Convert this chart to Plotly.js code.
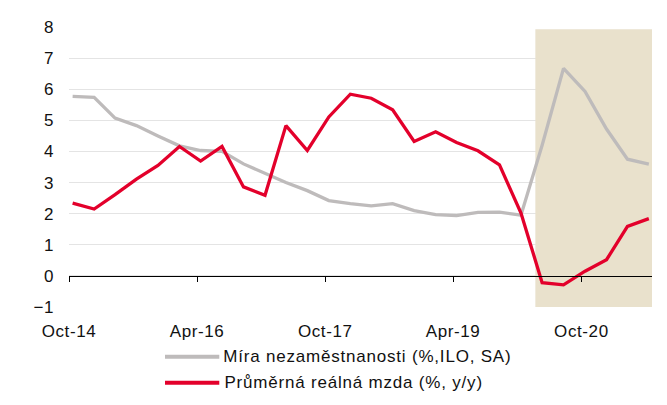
<!DOCTYPE html>
<html>
<head>
<meta charset="utf-8">
<script src="https://cdn.plot.ly/plotly-3.0.1.min.js"></script>
<style>
  html, body { margin: 0; padding: 0; background: #fff; }
  #chart { width: 667px; height: 405px; }
  #chart .xtick text, #chart .ytick text { letter-spacing: 0.6px; }
  #chart .annotation-text { letter-spacing: 0.8px; }
</style>
</head>
<body>
<div id="chart"></div>
<script>
// Quarterly observations (first month of each quarter)
const quarters = [
  '2014-10','2015-01','2015-04','2015-07','2015-10','2016-01','2016-04','2016-07',
  '2016-10','2017-01','2017-04','2017-07','2017-10','2018-01','2018-04','2018-07',
  '2018-10','2019-01','2019-04','2019-07','2019-10','2020-01','2020-04','2020-07',
  '2020-10','2021-01','2021-04','2021-07'
];
// Míra nezaměstnanosti (%, ILO, SA)
const unemployment = [
  5.77, 5.74, 5.07, 4.83, 4.50, 4.18, 4.03, 4.00,
  3.60, 3.30, 3.00, 2.74, 2.42, 2.32, 2.25, 2.32,
  2.10, 1.97, 1.94, 2.04, 2.05, 1.95, 4.20, 6.67,
  5.93, 4.72, 3.75, 3.59
];
// Průměrná reálná mzda (%, y/y)
const realWage = [
  2.34, 2.15, 2.61, 3.11, 3.55, 4.16, 3.69, 4.16,
  2.86, 2.59, 4.83, 4.03, 5.11, 5.84, 5.71, 5.34,
  4.32, 4.63, 4.29, 4.02, 3.57, 2.02, -0.22, -0.29,
  0.15, 0.52, 1.59, 1.84
];
const seriesNames = ['Míra nezaměstnanosti (%,ILO, SA)', 'Průměrná reálná mzda (%, y/y)'];
const seriesColors = ['#bebbbb', '#e3002b'];
const tickDates = ['2014-10-01','2016-04-01','2017-10-01','2019-04-01','2020-10-01'];
const tickLabels = ['Oct-14','Apr-16','Oct-17','Apr-19','Oct-20'];
const xRange = ['2014-10-01', '2021-07-30'];
const covidStart = '2020-03-18';

const FONT = 'Liberation Sans, Arial, sans-serif';

const common = { x: quarters, xperiod: 'M1', xperiodalignment: 'middle', mode: 'lines',
                 hoverinfo: 'skip', showlegend: false };

const traces = [
  Object.assign({}, common, { y: unemployment, name: seriesNames[0],
    line: { color: seriesColors[0], width: 3.3 } }),
  Object.assign({}, common, { y: realWage, name: seriesNames[1],
    line: { color: seriesColors[1], width: 3.3 } }),
  // carrier for the zero-level axis with tick marks
  Object.assign({}, common, { y: quarters.map(() => null), xaxis: 'x2' })
];

// plot area geometry in px (for legend placement in paper coords)
const M = { l: 69, r: 15, t: 27, b: 98 };
const PW = 667 - M.l - M.r, PH = 405 - M.t - M.b;
const px = v => (v - M.l) / PW;
const py = v => (405 - M.b - v) / PH;

const legendRows = [356.7, 382.7];
const shapes = [
  { type: 'rect', xref: 'x', yref: 'y', x0: covidStart, x1: xRange[1], y0: -1, y1: 7.93,
    fillcolor: '#e9e1cc', line: { width: 0 }, layer: 'between' }
];
const annotations = [];
seriesNames.forEach((name, i) => {
  shapes.push({ type: 'line', xref: 'paper', yref: 'paper',
    x0: px(165), x1: px(219.3), y0: py(legendRows[i]), y1: py(legendRows[i]),
    line: { color: seriesColors[i], width: 4 } });
  annotations.push({ xref: 'paper', yref: 'paper', x: px(220.5), y: py(legendRows[i]),
    xanchor: 'left', yanchor: 'middle', showarrow: false, text: name, xshift: 13.5,
    font: { family: FONT, size: 17, color: '#111' } });
});

const layout = {
  width: 667, height: 405,
  margin: M,
  paper_bgcolor: '#ffffff', plot_bgcolor: '#ffffff',
  font: { family: FONT, size: 17, color: '#111' },
  showlegend: false,
  xaxis: {
    type: 'date', range: xRange, tickvals: tickDates, ticktext: tickLabels,
    showgrid: false, zeroline: false, showline: false, ticks: '',
    ticklabelstandoff: 12, fixedrange: true
  },
  xaxis2: {
    type: 'date', overlaying: 'x', matches: 'x', anchor: 'free', position: 1 / 9,
    tickvals: tickDates, ticks: 'outside', ticklen: 5, tickwidth: 1, tickcolor: '#000',
    showline: true, linecolor: '#000', linewidth: 1, showticklabels: false,
    showgrid: false, zeroline: false
  },
  yaxis: {
    range: [-1, 8], dtick: 1, tick0: 0, showgrid: true, gridcolor: '#e4e4e4', gridwidth: 1,
    zeroline: false, showline: false, ticks: '', ticklabelstandoff: 14, fixedrange: true
  },
  shapes: shapes,
  annotations: annotations
};

Plotly.newPlot('chart', traces, layout, { staticPlot: true, displayModeBar: false });
</script>
</body>
</html>
